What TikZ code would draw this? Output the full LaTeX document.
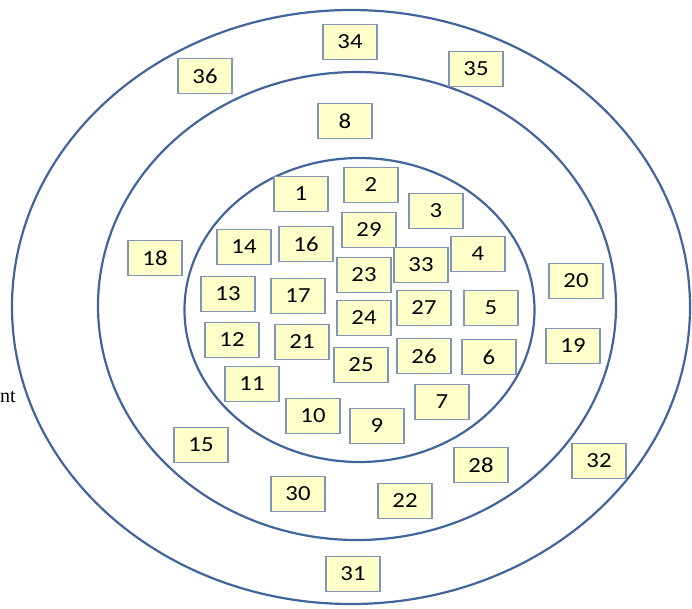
\documentclass[tikz,border=0pt]{standalone}
\usepackage{fontspec}
\newfontfamily\boxfont[FakeStretch=1.15]{Carlito}
\newfontfamily\timesfont{Liberation Serif}
\definecolor{ringblue}{HTML}{41659A}
\definecolor{boxedge}{HTML}{7F95B3}
\definecolor{boxfill}{HTML}{FFFFC9}
\begin{document}
\begin{tikzpicture}[x=1pt, y=-1pt,
  ring/.style={draw=ringblue, line width=2.2pt},
  numbox/.style={draw=boxedge, fill=boxfill, line width=1.3pt, minimum width=54pt, minimum height=35pt, inner sep=0pt, font=\boxfont\fontsize{21.5}{24}\selectfont}]
\useasboundingbox (0,0) rectangle (692,608);
% rings
\draw[ring] (351,307) ellipse [x radius=339, y radius=297];
\draw[ring] (357,306) ellipse [x radius=259, y radius=234];
\draw[ring] (359.5,310) ellipse [x radius=175, y radius=152];
% numbered boxes
\foreach \n/\x/\y in {34/350/42, 36/205/76, 35/476/69, 8/345/121,
  1/301/194, 2/371/185, 3/436/211, 29/369/230, 4/478/254, 33/421/265,
  23/364/275, 20/576/281, 14/244/247, 16/306/244, 18/155/258,
  13/228/294, 17/298/296, 24/364/318, 27/424/308, 5/491/308,
  12/232/340, 21/302/342, 25/361/365, 26/424/356, 6/489/357, 19/573/346,
  11/252/384, 10/313/416, 7/442/402, 9/377/426,
  15/201/445, 28/481/465, 32/599/461, 30/298/494, 22/405/501, 31/353/574}
  \node[numbox] (b\n) at (\x,\y) {\n};
% cut-off text at the left edge
\node[font=\timesfont\fontsize{20}{22}\selectfont, anchor=base east, inner sep=0pt] (cut) at (16,402) {nt};
\end{tikzpicture}
\end{document}
